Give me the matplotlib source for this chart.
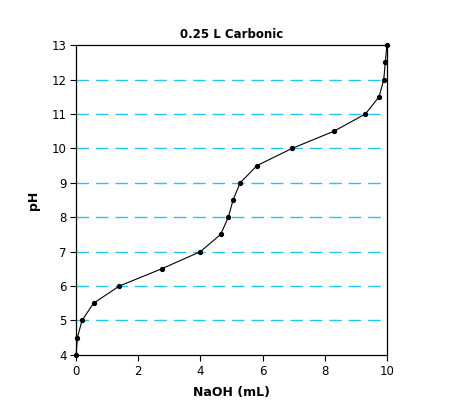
import matplotlib
matplotlib.use("Agg")
import matplotlib.pyplot as plt

# titration data
naoh_ml = [0, 0.04, 0.19, 0.56, 1.39, 2.75, 4.0, 4.65, 4.9, 5.05, 5.28,
           5.82, 6.95, 8.3, 9.31, 9.75, 9.9, 9.95, 10.0]
ph = [4, 4.5, 5, 5.5, 6, 6.5, 7, 7.5, 8, 8.5, 9,
      9.5, 10, 10.5, 11, 11.5, 12, 12.5, 13]
x_ticks = [0, 2, 4, 6, 8, 10]
y_ticks = [4, 5, 6, 7, 8, 9, 10, 11, 12, 13]

fig = plt.figure(figsize=(4.53, 4.18), dpi=100)
ax = fig.add_axes([0.168, 0.151, 0.686, 0.741])

# dashed cyan gridlines between the frame edges
for yv in y_ticks[1:-1]:
    ax.axhline(yv, color="#1ec8f0", linestyle=(0, (9, 5)), linewidth=1.0, zorder=1)

ax.plot(naoh_ml, ph, color="black", linewidth=0.8, marker="o", markersize=2.8,
        zorder=3, clip_on=False)

ax.set_xlim(0, 10)
ax.set_ylim(4, 13)
ax.set_xticks(x_ticks)
ax.set_yticks(y_ticks)
ax.tick_params(direction="out", length=4, width=0.8, labelsize=8.5, pad=3)
for sp in ax.spines.values():
    sp.set_linewidth(0.9)

ax.set_title("0.25 L Carbonic", fontsize=8.5, fontweight="bold", pad=5)
ax.set_xlabel("NaOH (mL)", fontsize=9, fontweight="bold", labelpad=6)
ax.set_ylabel("pH", fontsize=9, fontweight="bold", labelpad=8)

fig.savefig("out.png", dpi=100)
